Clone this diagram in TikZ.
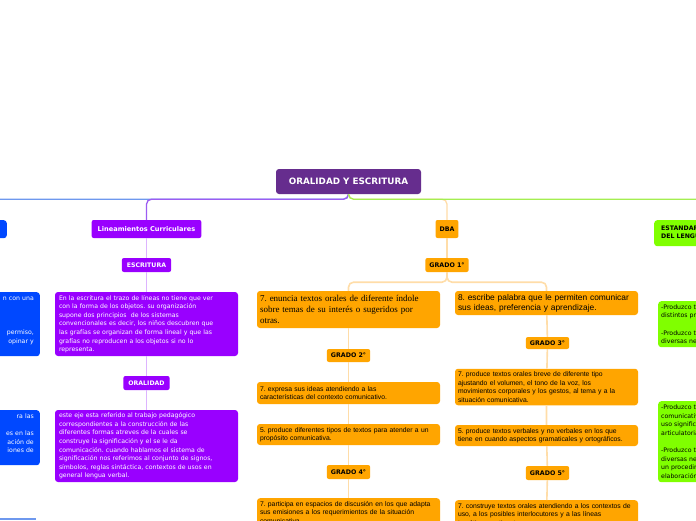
\documentclass[tikz,border=0pt]{standalone}
\usepackage{fontspec}
\setmainfont{DejaVu Sans}
\newfontfamily\arialfont{Liberation Sans}
\newfontfamily\timesfont{Liberation Serif}
\frenchspacing
\begin{document}
\begin{tikzpicture}[x=1pt,y=-1pt,
  rootbox/.style={fill=rootc,text=white,rounded corners=3pt,font=\bfseries\fontsize{8.8}{10}\selectfont,minimum width=145,minimum height=25,inner sep=0pt},
  vtag/.style={fill=violc,text=white,rounded corners=2pt,font=\bfseries\fontsize{6.2}{7}\selectfont,inner xsep=5pt,inner ysep=0pt,minimum height=14},
  otag/.style={fill=orangec,text=black,rounded corners=2pt,font=\bfseries\fontsize{6.3}{7}\selectfont,inner xsep=4pt,inner ysep=0pt,minimum height=14},
  vbox/.style={fill=violc,text=white,rounded corners=3pt,font=\fontsize{6.2}{8.6}\selectfont,text width=175,align=left,inner xsep=4pt,inner ysep=0pt},
  obox/.style={fill=orangec,text=black,rounded corners=3pt,font=\arialfont\fontsize{6.8}{8.5}\selectfont,text width=177,align=left,inner xsep=3pt,inner ysep=3pt},
  bbox/.style={fill=bluec,text=white,rounded corners=3pt,font=\fontsize{6.2}{8.6}\selectfont,text width=60,align=right,inner xsep=6pt,inner ysep=0pt},
  gbox/.style={fill=greenc,text=black,rounded corners=3pt,font=\fontsize{6.2}{8.6}\selectfont,text width=175,align=left,inner xsep=3pt,inner ysep=0pt},
  branch/.style={line width=1.3pt,rounded corners=5pt},
  column/.style={line width=1.6pt,rounded corners=5pt}]
\definecolor{rootc}{HTML}{662D8E}
\definecolor{violc}{HTML}{9900FF}
\definecolor{violl}{HTML}{9C5CF2}
\definecolor{violcol}{HTML}{DDB4FF}
\definecolor{orangec}{HTML}{FFA500}
\definecolor{orangel}{HTML}{FFDDA8}
\definecolor{greenc}{HTML}{80FF00}
\definecolor{greenl}{HTML}{A4EE50}
\definecolor{bluec}{HTML}{0048FF}
\definecolor{bluel}{HTML}{6E98EE}
\useasboundingbox (0,0) rectangle (696,520);
\clip (0,0) rectangle (696,520);
\fill[white] (0,0) rectangle (696,520);
\node[rootbox] (root) at (348.5,181.5) {ORALIDAD Y ESCRITURA};
\node[bbox,anchor=north east,minimum height=18] (bl0) at (7,220) {};
\node[bbox,anchor=north east,minimum height=64] (bb1) at (40,292) {n con una\\~\\~\\~\\permiso,\\opinar y\\~};
\node[bbox,anchor=north east,minimum height=55] (bb2) at (40,410) {ra las\\~\\es en las\\ación de\\iones de\\~};
\coordinate (bl3a) at (0,519);
\coordinate (bl3b) at (36,519);
\node[vtag,minimum height=18,inner xsep=6pt,font=\bfseries\fontsize{6.6}{7}\selectfont] (lin) at (146.5,229) {Lineamientos Curriculares};
\node[vtag] (escr) at (146.5,265) {ESCRITURA};
\node[vbox,minimum height=64] (vb1) at (146.5,324) {En la escritura el trazo de líneas no tiene que ver\\con la forma de los objetos. su organización\\supone dos principios \ de los sistemas\\convencionales es decir, los niños descubren que\\las grafías se organizan de forma lineal y que las\\grafías no reproducen a los objetos si no lo\\representa.};
\node[vtag] (oral) at (146.5,383) {ORALIDAD};
\node[vbox,minimum height=72] (vb2) at (146.5,446) {este eje esta referido al trabajo pedagógico\\correspondientes a la construcción de las\\diferentes formas atreves de la cuales se\\construye la significación y el se le da\\comunicación. cuando hablamos el sistema de\\significación nos referimos al conjunto de signos,\\símbolos, reglas sintáctica, contextos de usos en\\general lengua verbal.};
\node[otag,minimum height=18] (dba) at (447,229) {DBA};
\node[otag] (g1) at (447,265) {GRADO 1°};
\node[obox,font=\timesfont\fontsize{9}{10.8}\selectfont,minimum height=37] (o1) at (348.5,309.5) {7. enuncia textos orales de diferente índole\\sobre temas de su interés o sugeridos por\\otras.};
\node[otag,minimum height=13] (g2) at (348.5,355.5) {GRADO 2°};
\node[obox,minimum height=22] (o3) at (348.5,393) {7. expresa sus ideas atendiendo a las\\características del contexto comunicativo.};
\node[obox,minimum height=21] (o4) at (348.5,434.5) {5. produce diferentes tipos de textos para atender a un\\propósito comunicativa.};
\node[otag] (g4) at (348.5,472) {GRADO 4°};
\node[obox,anchor=north] (o5) at (348.5,498) {7. participa en espacios de discusión en los que adapta\\sus emisiones a los requerimientos de la situación\\comunicativa.};
\node[obox,font=\arialfont\fontsize{8.4}{10}\selectfont,minimum height=24] (o2) at (546.5,303) {8. escribe palabra que le permiten comunicar\\sus ideas, preferencia y aprendizaje.};
\node[otag,minimum height=12] (g3) at (547.5,343) {GRADO 3°};
\node[obox,minimum height=36] (o6) at (546.5,387) {7. produce textos orales breve de diferente tipo\\ajustando el volumen, el tono de la voz, los\\movimientos corporales y los gestos, al tema y a la\\situación comunicativa.};
\node[obox,minimum height=21] (o7) at (546.5,435.5) {5. produce textos verbales y no verbales en los que\\tiene en cuando aspectos gramaticales y ortográficos.};
\node[otag] (g5) at (547.5,473) {GRADO 5°};
\node[obox,anchor=north] (o8) at (546.5,500) {7. construye textos orales atendiendo a los contextos de\\uso, a los posibles interlocutores y a las líneas\\temáticas pertinentes};
\node[gbox,anchor=north west,minimum height=26,inner xsep=7pt,text width=90,font=\bfseries\fontsize{6.2}{8}\selectfont] (est) at (654,220) {ESTANDARES\\DEL LENGUAJE};
\node[gbox,anchor=north west,minimum height=46] (gb1) at (658,301) {-Produzco textos orales que responden a\\distintos propósitos comunicativos.\\~\\-Produzco textos escritos que responden a\\diversas necesidades comunicativas.};
\node[gbox,anchor=north west,minimum height=81] (gb2) at (658,401) {-Produzco textos orales, en situaciones\\comunicativas que permiten evidenciar el\\uso significativo de la entonación y la\\articulatoria.\\~\\-Produzco textos escritos que responden a\\diversas necesidades comunicativas y que\\un procedimiento estratégico para su\\elaboración.};
\draw[bluel,branch] (root.south) -- ++(0,5) -| (bl0.north);
\draw[violl,branch] (root.south) -- ++(0,5) -| (lin.north);
\draw[orangel,branch] (root.south) -- ++(0,5) -| (dba.north);
\draw[greenl,branch] (root.south) -- ++(0,5) -| (est.north);
\draw[bluel,line width=1.3pt] (bl3a) -- (bl3b);
\draw[violcol,column] (lin) -- (escr) -- (vb1) -- (oral) -- (vb2);
\draw[orangel,column] (dba) -- (g1);
\draw[orangel,column] (g1.south) -- ++(0,10) -| (o1.north);
\draw[orangel,column] (g1.south) -- ++(0,10) -| (o2.north);
\draw[orangel,column] (o1) -- (g2) -- (o3) -- (o4) -- (g4) -- (o5);
\draw[orangel,column] (o2) -- (g3) -- (o6) -- (o7) -- (g5) -- (o8);
\end{tikzpicture}
\end{document}
